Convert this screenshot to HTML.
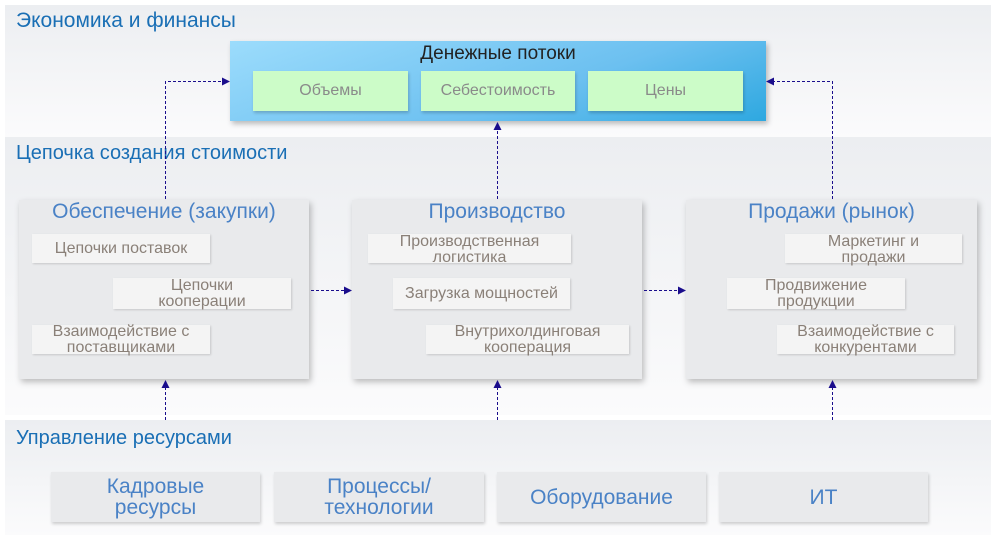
<!DOCTYPE html>
<html><head><meta charset="utf-8"><style>
body{margin:0;width:1006px;height:545px;background:#fff;position:relative;overflow:hidden;font-family:"Liberation Sans",sans-serif}
.a{position:absolute;box-sizing:border-box}
.band{background:linear-gradient(#eceef1,#fbfbfc)}
.bt{font-size:20px;color:#1a6fb5;white-space:nowrap}
.g{background:#ccfcc8;color:#8a8a8a;font-size:16px;display:flex;align-items:center;justify-content:center;box-shadow:1px 2px 3px rgba(0,0,0,.2)}
.p{background:#e9eaec;box-shadow:2px 3px 6px rgba(0,0,0,.25)}
.pt{font-size:21px;color:#4a82c6;text-align:center;width:100%;white-space:nowrap}
.s{background:#f4f4f4;color:#8a8078;font-size:16px;line-height:16px;text-align:center;display:flex;align-items:center;justify-content:center;box-shadow:1px 1px 2px rgba(0,0,0,.15);white-space:nowrap}
.r{background:#e9eaec;color:#4a82c6;font-size:21px;line-height:21px;text-align:center;display:flex;align-items:center;justify-content:center;box-shadow:1px 2px 3px rgba(0,0,0,.18)}
</style></head><body>
<div class="a band" style="left:5px;top:5px;width:986px;height:132px"></div>
<div class="a band" style="left:5px;top:137px;width:986px;height:278px"></div>
<div class="a band" style="left:5px;top:420px;width:986px;height:115px"></div>
<div class="a bt" style="left:16px;top:9px;font-size:21px">Экономика и финансы</div>
<div class="a bt" style="left:16px;top:142px">Цепочка создания стоимости</div>
<div class="a bt" style="left:16px;top:427px">Управление ресурсами</div>
<div class="a" style="left:230px;top:41px;width:536px;height:80px;background:linear-gradient(160deg,#9cdcfc,#6cc0f0 60%,#2ea8e0);box-shadow:2px 3px 5px rgba(0,0,0,.25)"></div>
<div class="a" style="left:230px;top:43px;width:536px;text-align:center;font-size:19px;color:#222">Денежные потоки</div>
<div class="a g" style="left:253px;top:71px;width:155px;height:40px">Объемы</div>
<div class="a g" style="left:421px;top:71px;width:154px;height:40px">Себестоимость</div>
<div class="a g" style="left:588px;top:71px;width:155px;height:40px">Цены</div>

<div class="a p" style="left:19px;top:200px;width:290px;height:179px"><div class="pt" style="margin-top:0px">Обеспечение (закупки)</div></div>
<div class="a p" style="left:352px;top:200px;width:290px;height:179px"><div class="pt" style="margin-top:0px">Производство</div></div>
<div class="a p" style="left:686px;top:200px;width:291px;height:179px"><div class="pt" style="margin-top:0px">Продажи (рынок)</div></div>

<div class="a s" style="left:32px;top:234px;width:178px;height:29px">Цепочки поставок</div>
<div class="a s" style="left:113px;top:278px;width:178px;height:31px">Цепочки<br>кооперации</div>
<div class="a s" style="left:32px;top:325px;width:178px;height:29px">Взаимодействие с<br>поставщиками</div>
<div class="a s" style="left:368px;top:234px;width:203px;height:29px;align-items:flex-start">Производственная<br>логистика</div>
<div class="a s" style="left:393px;top:278px;width:177px;height:31px">Загрузка мощностей</div>
<div class="a s" style="left:426px;top:325px;width:203px;height:29px">Внутрихолдинговая<br>кооперация</div>
<div class="a s" style="left:785px;top:234px;width:177px;height:29px;align-items:flex-start">Маркетинг и<br>продажи</div>
<div class="a s" style="left:727px;top:278px;width:178px;height:31px">Продвижение<br>продукции</div>
<div class="a s" style="left:777px;top:325px;width:177px;height:29px">Взаимодействие с<br>конкурентами</div>

<div class="a r" style="left:51px;top:472px;width:209px;height:50px">Кадровые<br>ресурсы</div>
<div class="a r" style="left:274px;top:472px;width:210px;height:50px">Процессы/<br>технологии</div>
<div class="a r" style="left:497px;top:472px;width:209px;height:50px">Оборудование</div>
<div class="a r" style="left:719px;top:472px;width:209px;height:50px">ИТ</div>

<svg class="a" style="left:0;top:0" width="1006" height="545">
<defs><marker id="m" markerWidth="8" markerHeight="8" refX="7" refY="4" orient="auto" markerUnits="userSpaceOnUse"><path d="M0,0L8,4L0,8z" fill="#1a0d8c"/></marker></defs>
<g stroke="#1a0d8c" stroke-width="1" fill="none" stroke-dasharray="3,2" marker-end="url(#m)">
<path d="M165.5 199V81.5H229"/>
<path d="M497.5 199V123"/>
<path d="M832.5 199V81.5H767"/>
<path d="M311 290.5H351"/>
<path d="M644 290.5H685"/>
<path d="M165.5 420V381"/>
<path d="M497.5 420V381"/>
<path d="M832.5 420V381"/>
</g></svg>
</body></html>
